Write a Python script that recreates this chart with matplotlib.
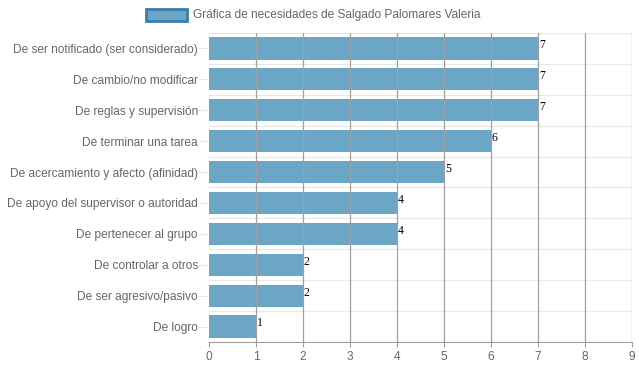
import matplotlib.pyplot as plt
import numpy as np

plt.rcParams['font.family'] = ['Liberation Sans', 'DejaVu Sans']

categorias = ['De ser notificado (ser considerado)', 'De cambio/no modificar',
              'De reglas y supervisión', 'De terminar una tarea',
              'De acercamiento y afecto (afinidad)', 'De apoyo del supervisor o autoridad',
              'De pertenecer al grupo', 'De controlar a otros',
              'De ser agresivo/pasivo', 'De logro']
valores = [7, 7, 7, 6, 5, 4, 4, 2, 2, 1]
ticks_x = list(range(0, 10))
leyenda = 'Gráfica de necesidades de Salgado Palomares Valeria'

color_barra = '#6ca6c6'
color_borde = '#3a7fa8'
gris = '#666666'
fs = 8.6

fig = plt.figure(figsize=(6.39, 3.72), dpi=100)
ax = fig.add_axes([209 / 639, 1 - 342 / 372, 423 / 639, 309 / 372])

y = np.arange(len(categorias))
barras = ax.barh(y, valores, height=0.72, color=color_barra, zorder=2)
ax.set_ylim(len(categorias) - 0.5, -0.5)
ax.set_xlim(0, 9)

for yi, v in zip(y, valores):
    ax.text(v + 0.02, yi - 0.1, str(v), fontsize=8.5, family='Liberation Serif',
            va='center', ha='left', color='black', zorder=3)

ax.set_yticks(y)
ax.set_yticklabels(categorias, fontsize=fs, color=gris)
ax.set_xticks(ticks_x)
ax.set_xticklabels([str(t) for t in ticks_x], fontsize=fs, color=gris)

# grid vertical (x) y horizontal entre categorías
for t in ticks_x[1:]:
    ax.axvline(t, color='#a0a0a0', lw=0.9, zorder=3)
for b in np.arange(-0.5, len(categorias), 1.0):
    ax.axhline(b, color='#e8e8e8', lw=0.9, zorder=1)

for s in ['top', 'right', 'left']:
    ax.spines[s].set_visible(False)
ax.spines['bottom'].set_color('#a0a0a0')
ax.tick_params(axis='y', length=8, color='#e8e8e8', pad=0)
ax.tick_params(axis='x', length=3.6, color='#a0a0a0', pad=3)

# leyenda
fig.patches.append(plt.Rectangle((146 / 639, 1 - 21 / 372), 41 / 639, 12 / 372,
                                 transform=fig.transFigure, facecolor=color_barra,
                                 edgecolor=color_borde, lw=2))
fig.text(193 / 639, 1 - 15 / 372, leyenda, fontsize=fs, color=gris, va='center', ha='left')

fig.savefig('out.png', dpi=100)
